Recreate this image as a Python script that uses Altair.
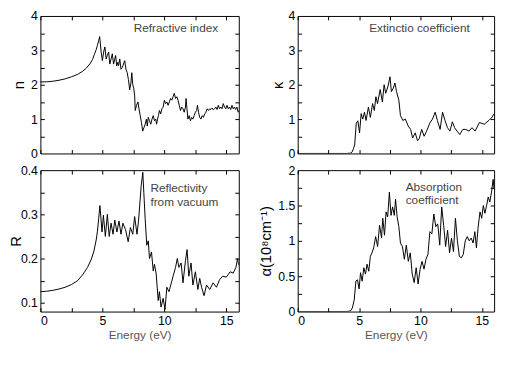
import altair as alt
import pandas as pd

# ---------------- data ----------------
n_E = [0, 0.5, 1, 1.5, 2, 2.5, 3, 3.4, 3.7, 4.0, 4.2, 4.35, 4.5, 4.6, 4.7, 4.78,
       4.9, 5.0, 5.1, 5.2, 5.3, 5.4, 5.5, 5.6, 5.7, 5.8, 5.9, 6.0, 6.07, 6.15, 6.25, 6.3,
       6.4, 6.5, 6.6, 6.7, 6.8, 6.9, 7.0, 7.1, 7.2, 7.3, 7.37, 7.45, 7.52, 7.6, 7.65, 7.75,
       7.87, 7.95, 8.05, 8.15, 8.25, 8.35, 8.45, 8.55, 8.62, 8.7, 8.8, 8.9, 9.0, 9.1, 9.2,
       9.3, 9.37, 9.45, 9.52, 9.6, 9.7, 9.8, 9.9, 10.0, 10.1, 10.2, 10.3, 10.4, 10.5, 10.6,
       10.7, 10.8, 10.9, 11.0, 11.1, 11.2, 11.3, 11.4, 11.5, 11.6, 11.7, 11.75, 11.82, 11.9,
       12.0, 12.1, 12.2, 12.3, 12.4, 12.5, 12.6, 12.67, 12.75, 12.85, 12.95, 13.05, 13.15,
       13.25, 13.35, 13.45, 13.55, 13.65, 13.75, 13.85, 13.95, 14.05, 14.15, 14.25, 14.35,
       14.45, 14.55, 14.65, 14.75, 14.85, 14.95, 15.05, 15.15, 15.25, 15.35, 15.45, 15.55,
       15.65, 15.75, 15.85, 15.95, 16.0]
n_val = [2.08, 2.085, 2.1, 2.13, 2.17, 2.23, 2.3, 2.39, 2.48, 2.61, 2.73, 2.88, 3.02, 3.15, 3.28, 3.4,
         2.95, 2.7, 2.95, 3.1, 2.75, 2.85, 2.95, 2.6, 2.75, 2.9, 2.6, 2.75, 2.85, 2.55, 2.65, 2.55,
         2.75, 2.45, 2.5, 2.6, 2.7, 2.45, 2.35, 2.15, 1.85, 2.05, 2.35, 2.0, 1.9, 1.7, 1.25, 1.4,
         1.5, 1.3, 1.1, 0.9, 0.65, 0.75, 0.85, 1.0, 0.8, 1.05, 0.95, 0.85, 1.0, 1.1, 0.95,
         1.0, 0.85, 1.0, 1.1, 1.25, 1.15, 1.3, 1.35, 1.55, 1.45, 1.5, 1.4, 1.5, 1.6, 1.55,
         1.65, 1.75, 1.6, 1.65, 1.55, 1.4, 1.25, 1.35, 1.3, 1.2, 1.35, 1.6, 1.3, 1.0,
         1.1, 0.95, 1.05, 1.0, 1.1, 1.2, 1.25, 1.4, 1.2, 1.05, 1.0, 1.1, 1.05,
         1.15, 1.2, 1.3, 1.25, 1.3, 1.28, 1.32, 1.27, 1.3, 1.35, 1.28, 1.4,
         1.3, 1.35, 1.3, 1.45, 1.35, 1.3, 1.4, 1.3, 1.35, 1.28, 1.4, 1.3,
         1.35, 1.28, 1.35, 1.2, 1.25]

k_E = [0, 1, 2, 3, 4, 4.3, 4.45, 4.55, 4.64, 4.77, 4.9, 5.04, 5.17, 5.3, 5.44, 5.57,
       5.76, 5.92, 6.1, 6.24, 6.37, 6.5, 6.72, 6.9, 7.04, 7.17, 7.36, 7.52, 7.63, 7.79,
       7.92, 8.05, 8.24, 8.37, 8.57, 8.77, 9.0, 9.2, 9.36, 9.57, 9.76, 9.9, 10.1, 10.3,
       10.5, 10.77, 10.98, 11.2, 11.38, 11.6, 11.8, 12.0, 12.2, 12.4, 12.6, 12.78, 12.98,
       13.2, 13.45, 13.7, 13.95, 14.2, 14.45, 14.8, 15.2, 15.6, 15.84, 16.0]
k_val = [0, 0, 0, 0, 0, 0.01, 0.05, 0.15, 0.25, 0.88, 0.95, 0.6, 1.16, 1.0, 1.2, 0.96,
         1.35, 1.05, 1.45, 1.25, 1.65, 1.45, 1.86, 1.5, 2.0, 1.75, 1.96, 2.23, 1.8, 1.9,
         2.05, 1.8, 1.55, 1.1, 0.96, 1.0, 0.8, 0.7, 0.45, 0.6, 0.37, 0.43, 0.7, 0.5,
         0.65, 0.89, 1.0, 1.2, 0.96, 0.7, 1.2, 0.96, 0.75, 0.65, 0.92, 0.75, 0.65,
         0.55, 0.7, 0.7, 0.65, 0.75, 0.65, 0.9, 0.85, 0.97, 1.06, 1.15]

r_E = [0, 0.5, 1, 1.5, 2, 2.5, 3, 3.4, 3.8, 4.1, 4.3, 4.5, 4.6, 4.7, 4.8,
       4.97, 5.08, 5.24, 5.4, 5.55, 5.7, 5.86, 6.0, 6.17, 6.34, 6.5, 6.65, 6.87, 7.08,
       7.26, 7.45, 7.6, 7.79, 7.92, 8.13, 8.26, 8.34, 8.45, 8.58, 8.7, 8.8, 8.96, 9.1,
       9.2, 9.34, 9.5, 9.6, 9.73, 9.9, 10.05, 10.2, 10.37, 10.56, 10.7, 10.9, 11.04,
       11.17, 11.35, 11.5, 11.7, 11.83, 11.97, 12.15, 12.3, 12.5, 12.7, 12.85, 13.0,
       13.2, 13.4, 13.66, 13.93, 14.2, 14.45, 14.7, 15.0, 15.3, 15.55, 15.77, 15.9, 16.0]
r_val = [0.125, 0.126, 0.128, 0.131, 0.135, 0.141, 0.15, 0.163, 0.18, 0.198, 0.215, 0.242, 0.262, 0.29, 0.32,
         0.26, 0.298, 0.25, 0.30, 0.25, 0.28, 0.255, 0.287, 0.26, 0.285, 0.255, 0.28, 0.265, 0.238,
         0.27, 0.255, 0.295, 0.255, 0.287, 0.365, 0.395, 0.35, 0.29, 0.23, 0.24, 0.2, 0.215, 0.172,
         0.187, 0.165, 0.105, 0.125, 0.09, 0.11, 0.085, 0.135, 0.125, 0.145, 0.16, 0.18, 0.2,
         0.18, 0.19, 0.145, 0.195, 0.22, 0.16, 0.19, 0.14, 0.17, 0.13, 0.155, 0.135,
         0.116, 0.14, 0.13, 0.145, 0.135, 0.152, 0.16, 0.158, 0.17, 0.167, 0.18, 0.2, 0.185]

a_E = [0, 1, 2, 3, 4, 4.3, 4.45, 4.6, 4.74, 4.87, 5.0, 5.12, 5.25, 5.39, 5.52, 5.65,
       5.79, 5.92, 6.05, 6.19, 6.35, 6.51, 6.67, 6.83, 6.93, 7.07, 7.2, 7.33, 7.47, 7.6,
       7.73, 7.87, 7.97, 8.1, 8.24, 8.37, 8.53, 8.69, 8.85, 9.01, 9.17, 9.33, 9.49, 9.65,
       9.81, 9.97, 10.13, 10.29, 10.45, 10.61, 10.77, 10.93, 11.09, 11.25, 11.41, 11.57,
       11.73, 11.89, 12.05, 12.21, 12.37, 12.53, 12.69, 12.85, 13.01, 13.17, 13.33, 13.49,
       13.65, 13.81, 13.97, 14.13, 14.29, 14.43, 14.56, 14.69, 14.85, 14.99, 15.12, 15.25,
       15.39, 15.52, 15.65, 15.79, 15.92, 16.0]
a_val = [0, 0, 0, 0, 0, 0.01, 0.05, 0.16, 0.43, 0.45, 0.32, 0.55, 0.43, 0.62, 0.53, 0.67,
         0.57, 0.78, 0.83, 0.9, 1.06, 0.92, 1.22, 1.04, 1.32, 1.08, 1.41, 1.34, 1.69, 1.36,
         1.48, 1.36, 1.59, 1.34, 1.2, 0.97, 0.92, 0.74, 0.94, 0.71, 0.83, 0.53, 0.41, 0.62,
         0.39, 0.6, 0.71, 0.6, 0.74, 0.81, 1.13, 1.1, 1.38, 1.2, 1.24, 0.94,
         1.48, 1.22, 0.92, 1.15, 0.83, 1.04, 0.85, 1.32, 1.0, 0.78, 0.76, 0.81,
         1.0, 1.06, 1.0, 1.04, 0.97, 1.13, 0.9, 1.18, 1.41, 1.32, 1.5, 1.39,
         1.5, 1.62, 1.55, 1.69, 1.87, 1.73]

x_label_vals = [0, 5, 10, 15]
x_tick_vals = [0, 2.5, 5, 7.5, 10, 12.5, 15]

FONT = "Liberation Sans"


def panel(E, V, ydom, ylabels, yticks, ytitle, title_x, w, h, xlabels, notes, note_align):
    df = pd.DataFrame({"E": E, "v": V})
    base = alt.Chart(df)
    xs = alt.Scale(domain=[0, 16], nice=False, zero=False)
    ys = alt.Scale(domain=ydom, nice=False, zero=False)

    if xlabels:
        xaxis = alt.Axis(orient="bottom", values=x_label_vals, ticks=False, tickSize=0,
                         domain=False, grid=False, labelPadding=3, labelFontSize=12.5,
                         labelColor="black", title="Energy (eV)", titleFontSize=12,
                         titleFontWeight="normal", titleColor="#555555", titlePadding=3)
    else:
        xaxis = None
    line = base.mark_line(color="black", strokeWidth=1, clip=True).encode(
        x=alt.X("E:Q", scale=xs, axis=xaxis),
        y=alt.Y("v:Q", scale=ys, axis=alt.Axis(
            orient="left", values=ylabels, format="~g", ticks=False, tickSize=0,
            domain=False, grid=False, labelPadding=3, labelFontSize=12.5,
            labelColor="black", title=ytitle, titleFontSize=15, titleFontWeight="normal",
            titleColor="black", titleX=title_x, titleBaseline="middle")),
    )
    tick_common = dict(labels=False, domain=False, grid=False, tickSize=4,
                       tickColor="black", title=None)
    t1 = base.mark_line(strokeOpacity=0).encode(
        x=alt.X("E:Q", scale=xs, axis=alt.Axis(orient="top", offset=-h, values=x_tick_vals, **tick_common)),
        y=alt.Y("v:Q", scale=ys, axis=alt.Axis(orient="right", offset=-w, values=yticks, **tick_common)),
    )
    t2 = base.mark_line(strokeOpacity=0).encode(
        x=alt.X("E:Q", scale=xs, axis=alt.Axis(orient="bottom", offset=-h, values=x_tick_vals, **tick_common)),
        y=alt.Y("v:Q", scale=ys, axis=alt.Axis(orient="left", offset=-w, values=yticks, **tick_common)),
    )
    layers = [line, t1, t2]
    for (txt, px, py) in notes:
        layers.append(
            alt.Chart(pd.DataFrame({"t": [txt]})).mark_text(
                align=note_align, baseline="middle", fontSize=12, color="#444444", font=FONT
            ).encode(text="t:N", x=alt.value(px), y=alt.value(py))
        )
    return alt.layer(*layers).resolve_axis(x="independent", y="independent").properties(
        width=w, height=h)


p1 = panel(n_E, n_val, [0, 4], [0, 1, 2, 3, 4], [0.5, 1, 1.5, 2, 2.5, 3, 3.5],
           "n", -22, 202, 140, False, [("Refractive index", 138, 12)], "center")
p2 = panel(k_E, k_val, [0, 4], [0, 1, 2, 3, 4], [0.5, 1, 1.5, 2, 2.5, 3, 3.5],
           "κ", -20, 200, 140, False, [("Extinctio coefficient", 124, 12)], "center")
p3 = panel(r_E, r_val, [0.08, 0.4], [0.1, 0.2, 0.3, 0.4],
           [0.1, 0.15, 0.2, 0.25, 0.3, 0.35], "R", -25, 202, 144, True,
           [("Reflectivity", 112, 18), ("from vacuum", 112, 32)], "left")
p4 = panel(a_E, a_val, [0, 2], [0, 0.5, 1, 1.5, 2],
           [0.25, 0.5, 0.75, 1, 1.25, 1.5, 1.75], "α(10⁸cm⁻¹)", -33, 200, 144, True,
           [("Absorption", 110, 17), ("coefficient", 110, 30)], "left")

chart = alt.concat(p1, p2, p3, p4, columns=2, spacing={"row": 17, "column": 60},
                   bounds="flush").properties(
    padding={"left": 0, "top": -2, "right": 5, "bottom": 5},
).configure(font=FONT).configure_view(stroke="black", strokeWidth=1)

chart.save("out.html", embed_options={"renderer": "svg", "actions": False})
